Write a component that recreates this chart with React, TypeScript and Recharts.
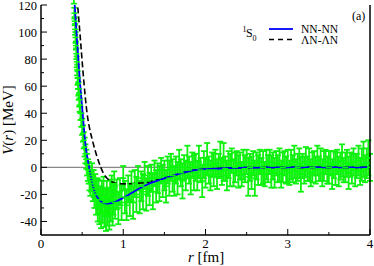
import {
  ComposedChart,
  Line,
  Scatter,
  ErrorBar,
  XAxis,
  YAxis,
  ReferenceLine,
} from "recharts";

// lattice QCD potential (green points with error bars)
const latticeR = [
  0.4, 0.405, 0.41, 0.415, 0.42, 0.425, 0.43, 0.435, 0.44, 0.445, 0.45, 0.455, 0.46, 0.465, 0.47,
  0.48, 0.49, 0.5, 0.51, 0.52, 0.53, 0.54, 0.55, 0.56, 0.57, 0.58, 0.59, 0.6,
  0.61, 0.62, 0.63, 0.64, 0.65, 0.66, 0.67, 0.68, 0.69, 0.7, 0.71, 0.72, 0.73, 0.74, 0.75, 0.76,
  0.77, 0.78, 0.79, 0.8, 0.81, 0.82, 0.83, 0.84, 0.85, 0.86, 0.87, 0.88, 0.89, 0.9, 0.92, 0.94,
  0.96, 0.98, 1.0, 1.02, 1.04, 1.06, 1.08, 1.1, 1.12, 1.14, 1.16, 1.18, 1.2, 1.22, 1.24, 1.26,
  1.28, 1.3, 1.32, 1.34, 1.36, 1.38, 1.4, 1.42, 1.44, 1.46, 1.48, 1.5, 1.52, 1.54, 1.56, 1.58,
  1.6, 1.62, 1.64, 1.66, 1.68, 1.7, 1.72, 1.74, 1.76, 1.78, 1.8, 1.82, 1.84, 1.86, 1.88, 1.9,
  1.92, 1.94, 1.96, 1.98, 2.0, 2.02, 2.04, 2.06, 2.08, 2.1, 2.12, 2.14, 2.16, 2.18, 2.2, 2.22,
  2.24, 2.26, 2.28, 2.3, 2.32, 2.34, 2.36, 2.38, 2.4, 2.42, 2.44, 2.46, 2.48, 2.5, 2.52, 2.54,
  2.56, 2.58, 2.6, 2.62, 2.64, 2.66, 2.68, 2.7, 2.72, 2.74, 2.76, 2.78, 2.8, 2.82, 2.84, 2.86,
  2.88, 2.9, 2.92, 2.94, 2.96, 2.98, 3.0, 3.02, 3.04, 3.06, 3.08, 3.1, 3.12, 3.14, 3.16, 3.18,
  3.2, 3.22, 3.24, 3.26, 3.28, 3.3, 3.32, 3.34, 3.36, 3.38, 3.4, 3.42, 3.44, 3.46, 3.48, 3.5,
  3.52, 3.54, 3.56, 3.58, 3.6, 3.62, 3.64, 3.66, 3.68, 3.7, 3.72, 3.74, 3.76, 3.78, 3.8, 3.82,
  3.84, 3.86, 3.88, 3.9, 3.92, 3.94, 3.96, 3.98, 4.0,
];
const latticeV = [
  124, 114, 108, 102, 96, 90, 84, 78, 72, 66, 62, 58, 54, 50, 46,
  40, 35, 30, 25, 20, 15, 10, 6, 2, -2, -4, -8, -12,
  -10, -6, -16, -12, -20, -14, -24, -18, -28, -20, -30, -24, -34, -22, -28, -18,
  -32, -26, -36, -22, -30, -25, -34, -20, -28, -16, -30, -24, -12, -26, -20, -30,
  -18, -26, -8, -22, -28, -16, -24, -14, -26, -12, -20, -8, -22, -14, -18, -6,
  -20, -10, -16, -8, -18, -4, -14, -8, -12, -2, -10, -6, -14, -2, -8, 0,
  -6, -10, -2, -8, 2, -4, -10, 0, -6, 4, -2, -8, 2, -4, 0, -6,
  4, -2, -10, 2, -4, 6, -2, -6, 2, -2, 3, -5, 1, 6, -3, 4,
  -1, -6, 2, -2, 5, -4, 0, 3, -3, 1, -5, 2, -1, 4, -7, 0,
  -4, 3, -8, 1, -2, 4, -3, 0, -5, 2, -1, 4, -3, 1, -4, 3,
  -1, 2, -5, 0, 3, -2, 1, -4, 2, -1, 4, -3, 0, 3, -5, 1,
  -2, 4, -1, 2, -4, 0, 3, -2, 5, -1, 2, -4, 1, 4, -2, 0,
  3, -5, 2, -1, 4, -3, 1, 5, -2, 0, 3, -4, 2, -1, 4, -2,
  1, 5, -3, 2, 6, -1, 3, 7, 0,
];
const latticeErr = [
  3, 4, 3, 4, 4, 3, 4, 4, 4, 5, 4, 5, 4, 5, 5,
  5, 5, 6, 6, 6, 7, 7, 7, 8, 8, 8, 9, 9,
  8, 9, 9, 10, 10, 9, 11, 10, 12, 11, 12, 10, 11, 12, 13, 11,
  12, 10, 11, 12, 13, 10, 12, 11, 12, 10, 13, 11, 9, 12, 11, 12,
  10, 13, 9, 12, 11, 10, 12, 11, 12, 10, 13, 9, 12, 11, 13, 10,
  12, 11, 12, 10, 13, 9, 12, 11, 13, 9, 12, 11, 12, 10, 13, 10,
  12, 11, 10, 12, 11, 10, 13, 9, 11, 12, 10, 12, 9, 13, 10, 11,
  12, 9, 12, 10, 11, 12, 10, 11, 9, 12, 10, 11, 9, 13, 10, 14,
  9, 11, 10, 12, 9, 10, 11, 9, 12, 10, 9, 11, 10, 9, 14, 10,
  12, 9, 13, 10, 11, 9, 10, 12, 9, 11, 10, 9, 12, 10, 11, 9,
  10, 12, 10, 11, 9, 10, 12, 9, 11, 10, 12, 9, 10, 11, 13, 9,
  10, 11, 9, 12, 10, 11, 9, 10, 11, 9, 12, 10, 11, 9, 10, 12,
  9, 11, 10, 12, 9, 11, 10, 12, 9, 11, 10, 12, 9, 11, 10, 12,
  9, 11, 10, 12, 13, 10, 11, 13, 10,
];

// fitted NN-NN potential (blue)
const nnR = [0.38, 0.41, 0.44, 0.47, 0.505, 0.537, 0.585, 0.634, 0.683, 0.75, 0.816, 0.9, 1.0, 1.1, 1.2, 1.3, 1.44, 1.56, 1.7, 1.85, 2.0, 2.25, 2.5, 3.0, 3.5, 4.0];
const nnV = [148, 120, 92, 66, 41, 19, 0, -14.5, -22, -26, -27, -25.5, -22.5, -19, -15.5, -12.5, -9.4, -7, -4.5, -2.2, -1.3, -0.6, -0.2, 0, 0, 0];

// fitted ΛN-ΛN potential (dashed)
const lnR = [0.42, 0.445, 0.48, 0.52, 0.56, 0.59, 0.625, 0.68, 0.727, 0.76, 0.8, 0.85, 0.9, 0.95, 1.04, 1.15, 1.28, 1.4, 1.56, 1.7, 1.85, 2.0, 2.25, 2.5, 3.0, 3.5, 4.0];
const lnV = [138, 120, 94, 64, 40, 29, 20, 8, 0, -4.5, -7.9, -10.3, -11.6, -12.1, -12.2, -11.8, -11.2, -9.5, -6.9, -4.5, -2.2, -1.3, -0.6, -0.2, 0, 0, 0];

const xTicks = [0, 0.5, 1, 1.5, 2, 2.5, 3, 3.5, 4];
const yTicks = [-40, -30, -20, -10, 0, 10, 20, 30, 40, 50, 60, 70, 80, 90, 100, 110, 120];

const latticeData = latticeR.map((r, i) => ({ r, v: latticeV[i], err: latticeErr[i] }));
const nnData = nnR.map((r, i) => ({ r, nn: nnV[i] }));
const lnData = lnR.map((r, i) => ({ r, ln: lnV[i] }));

const FONT = "'Liberation Serif', 'Times New Roman', serif";
const textStyle = { fontFamily: FONT };
const axisLine = { stroke: "#000", strokeWidth: 1.5 };

const isMajorX = (v: number) => Number.isInteger(v);
const isMajorY = (v: number) => v % 20 === 0;

const BottomTick = ({ x, y, payload }: any) => {
  const major = isMajorX(payload.value);
  return (
    <g>
      <line x1={x} x2={x} y1={y} y2={y - (major ? 6 : 3)} stroke="#000" />
      {major && (
        <text x={x} y={y + 12.5} textAnchor="middle" fontSize={13} style={textStyle} fill="#000">
          {payload.value}
        </text>
      )}
    </g>
  );
};

const TopTick = ({ x, y, payload }: any) => (
  <line x1={x} x2={x} y1={y} y2={y + (isMajorX(payload.value) ? 6 : 3)} stroke="#000" />
);

const LeftTick = ({ x, y, payload }: any) => {
  const major = isMajorY(payload.value);
  return (
    <g>
      <line x1={x} x2={x + (major ? 6 : 3)} y1={y} y2={y} stroke="#000" />
      {major && (
        <text x={x - 4} y={y + 4.5} textAnchor="end" fontSize={12.5} style={textStyle} fill="#000">
          {payload.value}
        </text>
      )}
    </g>
  );
};

const RightTick = ({ x, y, payload }: any) => (
  <line x1={x} x2={x - (isMajorY(payload.value) ? 6 : 3)} y1={y} y2={y} stroke="#000" />
);

const PointMark = ({ cx, cy }: any) => (
  <line x1={cx - 3} x2={cx + 3} y1={cy} y2={cy} stroke="#00ff00" strokeWidth={1.5} />
);

export default function App() {
  return (
    <div style={{ position: "absolute", left: 0, top: 0, width: 374, height: 266, fontFamily: FONT }}>
      <ComposedChart width={374} height={266} margin={{ top: 5, right: 0, bottom: 0, left: 0 }}>
        <XAxis
          dataKey="r"
          type="number"
          domain={[0, 4]}
          ticks={xTicks}
          interval={0}
          tickSize={0}
          tickMargin={0}
          tick={<BottomTick />}
          axisLine={axisLine}
          height={31}
          allowDataOverflow
          label={{
            content: () => (
              <text x={206} y={262} textAnchor="middle" fontSize={15} style={textStyle} fill="#000">
                <tspan fontStyle="italic">r</tspan> [fm]
              </text>
            ),
          }}
        />
        <XAxis
          xAxisId="top"
          orientation="top"
          type="number"
          domain={[0, 4]}
          ticks={xTicks}
          interval={0}
          tickSize={0}
          tickMargin={0}
          tick={<TopTick />}
          axisLine={axisLine}
          height={0}
        />
        <YAxis
          type="number"
          domain={[-50, 120]}
          ticks={yTicks}
          interval={0}
          tickSize={0}
          tickMargin={0}
          tick={<LeftTick />}
          axisLine={axisLine}
          width={41}
          allowDataOverflow
          label={{
            content: () => (
              <text
                x={12.5}
                y={120}
                transform="rotate(-90, 12.5, 120)"
                textAnchor="middle"
                fontSize={15}
                style={textStyle}
                fill="#000"
              >
                <tspan fontStyle="italic">V</tspan>(<tspan fontStyle="italic">r</tspan>) [MeV]
              </text>
            ),
          }}
        />
        <YAxis
          yAxisId="right"
          orientation="right"
          type="number"
          domain={[-50, 120]}
          ticks={yTicks}
          interval={0}
          tickSize={0}
          tickMargin={0}
          tick={<RightTick />}
          axisLine={axisLine}
          width={4}
        />
        <ReferenceLine y={0} stroke="#888" strokeWidth={1.2} />
        <Scatter data={latticeData} dataKey="v" shape={<PointMark />} isAnimationActive={false}>
          <ErrorBar dataKey="err" direction="y" width={3} stroke="#10f010" strokeWidth={1.8} />
        </Scatter>
        <Line
          data={lnData}
          dataKey="ln"
          type="monotone"
          stroke="#000"
          strokeWidth={1.6}
          strokeDasharray="6 3"
          dot={false}
          isAnimationActive={false}
        />
        <Line
          data={nnData}
          dataKey="nn"
          type="monotone"
          stroke="#0000ff"
          strokeWidth={1.8}
          dot={false}
          isAnimationActive={false}
        />
      </ComposedChart>
      <svg
        width={374}
        height={266}
        style={{ position: "absolute", left: 0, top: 0, pointerEvents: "none" }}
      >
        <text x={352} y={20} fontSize={12} style={textStyle} fill="#000">(a)</text>
        <text x={242.5} y={31.5} fontSize={8} style={textStyle} fill="#000">1</text>
        <text x={246} y={37} fontSize={12} style={textStyle} fill="#000">S</text>
        <text x={252.5} y={41} fontSize={8} style={textStyle} fill="#000">0</text>
        <line x1={269} x2={293} y1={29} y2={29} stroke="#0000ff" strokeWidth={1.8} />
        <text x={301} y={33} fontSize={11.5} style={textStyle} fill="#000">NN-NN</text>
        <line x1={269} x2={293} y1={39.5} y2={39.5} stroke="#000" strokeWidth={1.6} strokeDasharray="5 4" />
        <text x={301} y={44} fontSize={11.5} style={textStyle} fill="#000">ΛN-ΛN</text>
      </svg>
    </div>
  );
}
